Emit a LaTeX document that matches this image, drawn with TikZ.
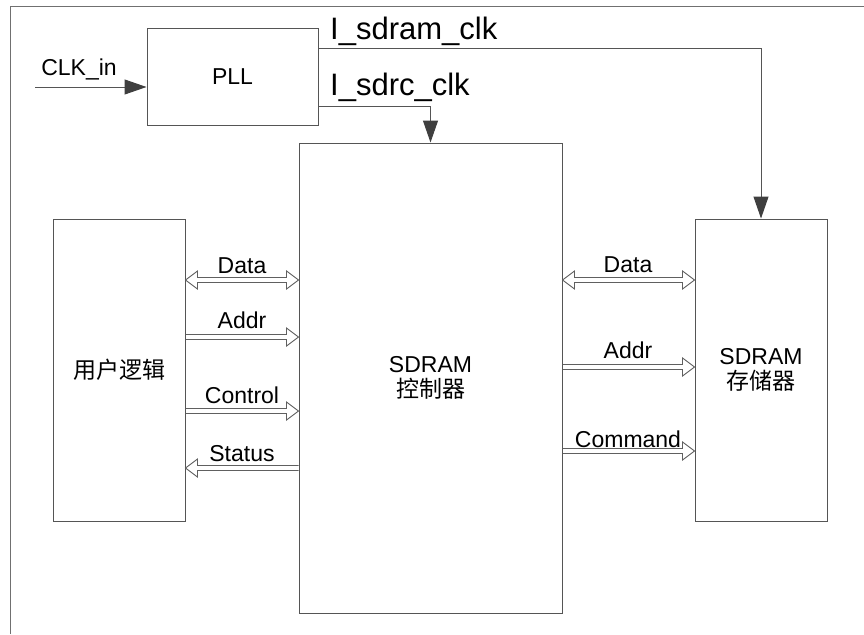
\documentclass[tikz,border=0pt]{standalone}
\usepackage{fontspec}
\setmainfont{Liberation Sans}
\newfontfamily\cjk{Noto Sans CJK SC}
\usetikzlibrary{arrows.meta,calc}
\definecolor{linec}{HTML}{555555}
\definecolor{busc}{HTML}{606060}
\definecolor{tipc}{HTML}{3F3F3F}
\definecolor{framec}{HTML}{707070}
\begin{document}
\begin{tikzpicture}[x=1pt,y=-1pt,
  box/.style={draw=linec, line width=1pt, inner sep=0pt, align=center,
              font=\fontsize{23}{27}\selectfont},
  lbl/.style={inner sep=0pt, font=\fontsize{23}{27}\selectfont},
  biglbl/.style={inner sep=0pt, font=\fontsize{31}{36}\selectfont},
  clk/.style={draw=linec, line width=1pt,
              -{Triangle[length=22pt,width=15pt,color=tipc]}},
  % hollow block arrow, head at the target end
  bus/.style={draw=busc, line width=0.9pt, to path={
    let \p1=(\tikztostart), \p2=(\tikztotarget), \n1={sign(\x2-\x1)} in
    ({\x1},{\y1+2.5pt}) -- ({\x2-\n1*12pt},{\y1+2.5pt}) -- ({\x2-\n1*12pt},{\y1+9pt})
    -- ({\x2},{\y1}) -- ({\x2-\n1*12pt},{\y1-9pt}) -- ({\x2-\n1*12pt},{\y1-2.5pt})
    -- ({\x1},{\y1-2.5pt})}},
  % hollow block arrow with heads at both ends
  bus2/.style={draw=busc, line width=0.9pt, to path={
    let \p1=(\tikztostart), \p2=(\tikztotarget), \n1={sign(\x2-\x1)} in
    ({\x1+\n1*12pt},{\y1+2.5pt}) -- ({\x2-\n1*12pt},{\y1+2.5pt}) -- ({\x2-\n1*12pt},{\y1+9pt})
    -- ({\x2},{\y1}) -- ({\x2-\n1*12pt},{\y1-9pt}) -- ({\x2-\n1*12pt},{\y1-2.5pt})
    -- ({\x1+\n1*12pt},{\y1-2.5pt}) -- ({\x1+\n1*12pt},{\y1-9pt}) -- ({\x1},{\y1})
    -- ({\x1+\n1*12pt},{\y1+9pt}) -- cycle}}
]
\fill[white] (0,0) rectangle (864,634);
\useasboundingbox (0,0) rectangle (864,634);

% outer frame (top and left edges)
\draw[framec, line width=1pt] (10,634) -- (10,7) -- (864,7);

% blocks
\node[box, minimum width=171pt, minimum height=96pt] (pll) at (232.5,77) {PLL};
\node[box, minimum width=132pt, minimum height=302pt] (ul) at (119,370) {{\cjk 用户逻辑}};
\node[box, minimum width=263pt, minimum height=470pt] (ctrl) at (430.5,378) {SDRAM\\[-2pt]{\cjk 控制器}};
\node[box, minimum width=132pt, minimum height=302pt] (mem) at (761,370) {SDRAM\\[-2pt]{\cjk 存储器}};

% clock input
\coordinate (clkin) at (35,87);
\draw[clk] (clkin) -- (pll.west |- clkin);
\node[lbl, anchor=base] (clkinlbl) at (79,75) {CLK\_in};

% clock outputs
\coordinate (sdramrow) at (0,49);
\coordinate (sdrcrow) at (0,106);
\draw[clk] (pll.east |- sdramrow) -| (mem.north);
\draw[clk] (pll.east |- sdrcrow) -| (ctrl.north);
\node[biglbl, anchor=base west] (sdramlbl) at (330,40) {I\_sdram\_clk};
\node[biglbl, anchor=base west] (sdrclbl) at (330,95) {I\_sdrc\_clk};

% user logic <-> controller
\coordinate (rowLa) at (0,280);
\coordinate (rowLb) at (0,337);
\coordinate (rowLc) at (0,411);
\coordinate (rowLd) at (0,468);
\draw[bus2] (ul.east |- rowLa) to (ctrl.west |- rowLa);
\draw[bus] (ul.east |- rowLb) to (ctrl.west |- rowLb);
\draw[bus] (ul.east |- rowLc) to (ctrl.west |- rowLc);
\draw[bus] (ctrl.west |- rowLd) to (ul.east |- rowLd);
\node[lbl, anchor=base] (ldata) at (242,273) {Data};
\node[lbl, anchor=base] (laddr) at (242,328) {Addr};
\node[lbl, anchor=base] (lctl) at (242,403) {Control};
\node[lbl, anchor=base] (lstat) at (242,461) {Status};

% controller <-> SDRAM device
\coordinate (rowRa) at (0,280);
\coordinate (rowRb) at (0,367);
\coordinate (rowRc) at (0,451);
\draw[bus2] (ctrl.east |- rowRa) to (mem.west |- rowRa);
\draw[bus] (ctrl.east |- rowRb) to (mem.west |- rowRb);
\draw[bus] (ctrl.east |- rowRc) to (mem.west |- rowRc);
\node[lbl, anchor=base] (rdata) at (628,272) {Data};
\node[lbl, anchor=base] (raddr) at (628,358) {Addr};
\node[lbl, anchor=base] (rcmd) at (628,447) {Command};
\end{tikzpicture}
\end{document}
